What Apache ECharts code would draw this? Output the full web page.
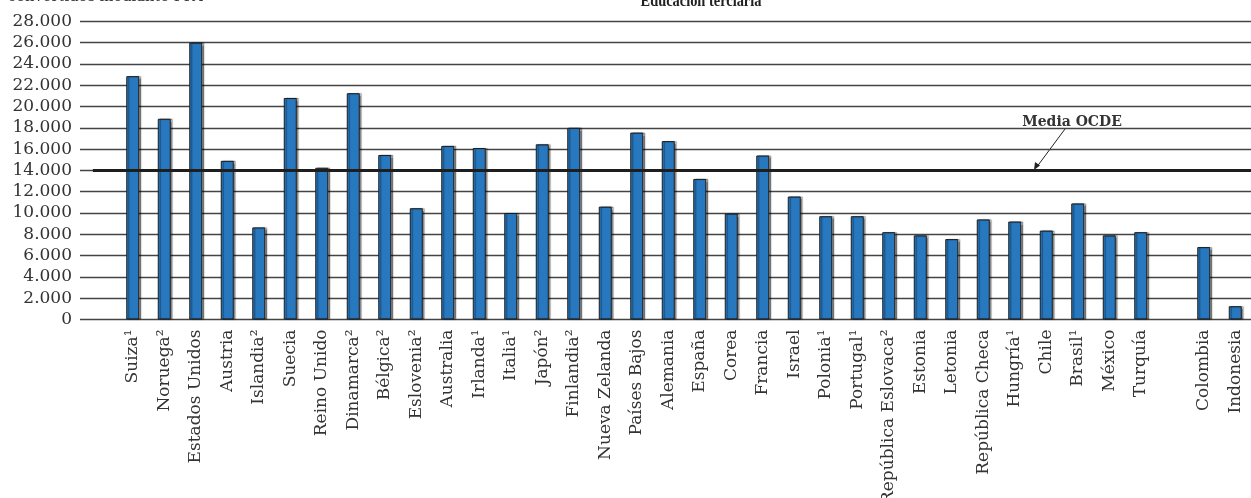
<!DOCTYPE html>
<html>
<head>
<meta charset="utf-8">
<script src="https://cdn.jsdelivr.net/npm/echarts@6/dist/echarts.min.js"></script>
<style>
html,body{margin:0;padding:0;background:#fff;}
#chart{width:1251px;height:498px;}
</style>
</head>
<body>
<div id="chart"></div>
<script>
const categories = ['Suiza¹','Noruega²','Estados Unidos','Austria','Islandia²','Suecia','Reino Unido','Dinamarca²','Bélgica²','Eslovenia²','Australia','Irlanda¹','Italia¹','Japón²','Finlandia²','Nueva Zelanda','Países Bajos','Alemania','España','Corea','Francia','Israel','Polonia¹','Portugal¹','República Eslovaca²','Estonia','Letonia','República Checa','Hungría¹','Chile','Brasil¹','México','Turquía','','Colombia','Indonesia'];
const values = [22850,18850,26000,14900,8650,20800,14250,21250,15450,10450,16300,16100,10000,16450,18000,10600,17550,16750,13200,9950,15400,11550,9700,9700,8200,7900,7550,9400,9200,8350,10900,7900,8200,'-',6800,1250];
const oecdMean = 14000;
const yTicks = {min:0, max:28000, interval:2000};
const titleText = 'Educación terciaria';
const topLeftText = 'convertidos mediante PPA';
const meanLabel = 'Media OCDE';

const fmt = v => String(v).replace(/\B(?=(\d{3})+(?!\d))/g, '.');
const serif = 'DejaVu Serif';
const chart = echarts.init(document.getElementById('chart'), null, {renderer:'canvas'});
chart.setOption({
  animation:false,
  backgroundColor:'#fff',
  grid:[
    {left:80, right:0, top:21.3, bottom:178.5, containLabel:false, outerBoundsMode:'none'},
    {left:117, right:0, top:21.3, bottom:178.5, containLabel:false, outerBoundsMode:'none'}
  ],
  xAxis:[
    {gridIndex:0, type:'value', min:0, max:1, show:false},
    {gridIndex:1, type:'category', data:categories,
     axisLine:{show:false}, axisTick:{show:false},
     axisLabel:{rotate:90, interval:0, margin:10, color:'#333', fontFamily:serif, fontSize:17, hideOverlap:false}}
  ],
  yAxis:[
    {gridIndex:0, type:'value', min:yTicks.min, max:yTicks.max, interval:yTicks.interval,
     axisLine:{show:false}, axisTick:{show:false},
     axisLabel:{formatter:fmt, color:'#333', fontFamily:serif, fontSize:17, margin:8},
     splitLine:{show:true, lineStyle:{color:'#444', width:1.4}}},
    {gridIndex:1, type:'value', min:yTicks.min, max:yTicks.max, show:false, splitLine:{show:false}}
  ],
  series:[
    {type:'bar', xAxisIndex:1, yAxisIndex:1, data:values, barWidth:13,
     itemStyle:{color:'#2878bf', borderColor:'#1c1c1c', borderWidth:1,
       shadowColor:'rgba(0,0,0,0.4)', shadowOffsetX:2, shadowOffsetY:0, shadowBlur:1}},
    {type:'line', xAxisIndex:0, yAxisIndex:0, data:[], silent:true,
     markLine:{silent:true, symbol:'none', label:{show:false},
       lineStyle:{color:'#1e1e1e', width:3, type:'solid'},
       data:[[{coord:[0.011, oecdMean]},{coord:[1, oecdMean]}]]}}
  ],
  graphic:[
    {type:'text', left:8, top:-10, style:{text:topLeftText, font:'14.7px "DejaVu Serif"', fill:'#333'}},
    {type:'text', x:701, y:9.5, scaleX:0.9, style:{text:titleText, font:'bold 16px "Liberation Serif"', fill:'#222', textAlign:'center', textVerticalAlign:'bottom'}},
    {type:'rect', shape:{x:1011, y:114, width:122, height:16}, style:{fill:'#fff'}},
    {type:'text', x:1072, y:122, style:{text:meanLabel, font:'bold 14px "DejaVu Serif"', fill:'#333', textAlign:'center', textVerticalAlign:'middle'}},
    {type:'line', shape:{x1:1065, y1:129, x2:1036, y2:168}, style:{stroke:'#222', lineWidth:1}},
    {type:'polygon', shape:{points:[[1034,170],[1035,162],[1040,165.5]]}, style:{fill:'#222'}}
  ]
});
</script>
</body>
</html>
